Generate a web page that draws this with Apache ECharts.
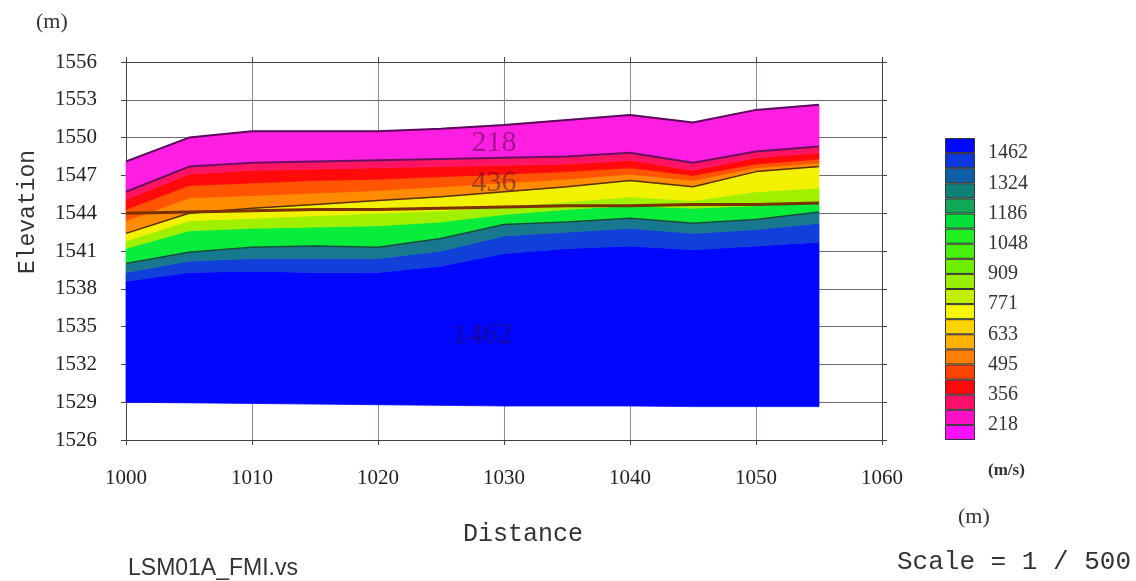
<!DOCTYPE html>
<html>
<head>
<meta charset="utf-8">
<script src="https://cdn.jsdelivr.net/npm/echarts@6/dist/echarts.min.js"></script>
<style>
html, body { margin: 0; padding: 0; background: #fff; }
#mainContent { width: 1136px; height: 581px; }
</style>
</head>
<body>
<div id="mainContent"></div>
<script>
// distance of the profile nodes (m)
var distance = [1000, 1005, 1010, 1015, 1020, 1025, 1030, 1035, 1040, 1045, 1050, 1055];

// band boundaries (elevation, m), read from the section, top to bottom
var topSurface   = [1548.1, 1550.0, 1550.5, 1550.5, 1550.5, 1550.7, 1551.0, 1551.4, 1551.8, 1551.2, 1552.2, 1552.6];
var contour218   = [1545.7, 1547.7, 1548.0, 1548.1, 1548.2, 1548.3, 1548.4, 1548.5, 1548.8, 1548.0, 1548.9, 1549.3];
var redTop       = [1545.1, 1547.1, 1547.4, 1547.5, 1547.6, 1547.7, 1547.8, 1547.9, 1548.2, 1547.4, 1548.4, 1548.8];
var orangeRedTop = [1544.3, 1546.2, 1546.4, 1546.6, 1546.7, 1546.9, 1547.1, 1547.3, 1547.6, 1547.0, 1547.9, 1548.3];
var orangeTop    = [1543.4, 1545.2, 1545.4, 1545.6, 1545.8, 1546.1, 1546.4, 1546.7, 1547.1, 1546.6, 1547.6, 1548.0];
var contour436   = [1542.4, 1544.0, 1544.4, 1544.7, 1545.0, 1545.3, 1545.7, 1546.1, 1546.6, 1546.1, 1547.3, 1547.7];
var limeTop      = [1541.8, 1543.4, 1543.6, 1543.8, 1544.0, 1544.2, 1544.5, 1544.9, 1545.3, 1545.0, 1545.7, 1546.0];
var greenTop     = [1541.2, 1542.6, 1542.8, 1542.9, 1543.0, 1543.3, 1543.9, 1544.3, 1544.6, 1544.4, 1544.6, 1544.9];
var contour1324  = [1540.0, 1540.9, 1541.3, 1541.4, 1541.3, 1542.0, 1543.1, 1543.3, 1543.6, 1543.2, 1543.5, 1544.1];
var navyTop      = [1539.3, 1540.2, 1540.4, 1540.4, 1540.4, 1541.0, 1542.2, 1542.5, 1542.8, 1542.4, 1542.7, 1543.2];
var blueTop      = [1538.6, 1539.3, 1539.4, 1539.3, 1539.3, 1539.8, 1540.8, 1541.2, 1541.4, 1541.1, 1541.4, 1541.7];
var bottomLine   = [1529.0, 1528.95, 1528.9, 1528.85, 1528.8, 1528.75, 1528.7, 1528.7, 1528.7, 1528.65, 1528.65, 1528.65];
var waterLine    = [1544.0, 1544.1, 1544.2, 1544.3, 1544.3, 1544.4, 1544.5, 1544.6, 1544.6, 1544.7, 1544.7, 1544.8];

// contour labels
var contourText = ['218', '436', '1462'];
var contourX = [1029.2, 1029.2, 1028.3];
var contourY = [1549.6, 1546.4, 1534.3];

// colour bar (bottom to top) and its labels
var barColors = ['#ff10ff', '#ff10c8', '#ff1068', '#ff0a0a', '#ff4400', '#ff8000', '#ffb000', '#ffd400',
    '#f4f800', '#c0f000', '#98f000', '#70f000', '#48f010', '#20f020', '#00e038', '#10a858',
    '#10807a', '#1060a8', '#0c38e0', '#0008ff'];
var barLabels = ['218', '356', '495', '633', '771', '909', '1048', '1186', '1324', '1462'];

var myChart = echarts.init(document.getElementById('mainContent'));

function pairs(arr) {
    var out = [];
    for (var i = 0; i < distance.length; i++) {
        out.push([distance[i], arr[i]]);
    }
    return out;
}

// bands between successive boundaries, bottom to top
var bounds = [bottomLine, blueTop, navyTop, contour1324, greenTop, limeTop, contour436,
    orangeTop, orangeRedTop, redTop, contour218, topSurface];
var bandColors = ['#0006ff', '#1040d8', '#187890', '#08ec3c', '#a0f000', '#f2f200',
    '#ff8c00', '#ff5400', '#ff0a0a', '#ff1464', '#ff1ee2'];

var bandData = [];
for (var b = 0; b < bandColors.length; b++) bandData.push([b]);

var series = [];
series.push({
    type: 'custom',
    data: bandData,
    silent: true,
    z: 1,
    renderItem: function (params, api) {
        var b = api.value(0);
        var lower = bounds[b], upper = bounds[b + 1];
        var pts = [];
        for (var i = 0; i < distance.length; i++) pts.push(api.coord([distance[i], upper[i]]));
        for (var j = distance.length - 1; j >= 0; j--) pts.push(api.coord([distance[j], lower[j]]));
        return {
            type: 'polygon',
            shape: { points: pts },
            style: { fill: bandColors[b], stroke: bandColors[b], lineWidth: 0.8 }
        };
    }
});

// contour lines
var lines = [
    [topSurface, '#5a0a5a', 2],
    [contour218, '#6a1060', 2],
    [contour436, '#5a3010', 1.5],
    [waterLine, '#7a3000', 3],
    [contour1324, '#1a4a3a', 1.5]
];
lines.forEach(function (l) {
    series.push({
        type: 'line', data: pairs(l[0]), symbol: 'none',
        lineStyle: { color: l[1], width: l[2] }, silent: true, z: 3
    });
});

// contour value labels
var labelData = [];
for (var k = 0; k < contourText.length; k++) {
    labelData.push({ name: contourText[k], value: [contourX[k], contourY[k]] });
}
series.push({
    type: 'scatter', data: labelData, symbolSize: 0, z: 4, silent: true,
    label: {
        show: true, position: 'inside', formatter: '{b}',
        fontFamily: 'Liberation Serif', fontSize: 30,
        color: 'rgba(50,10,50,0.6)'
    }
});

// colour bar
for (var c = 0; c < barColors.length; c++) {
    series.push({
        type: 'bar', stack: 'cbar', xAxisIndex: 2, yAxisIndex: 2, data: [1],
        barWidth: 30, silent: true,
        itemStyle: { color: barColors[c], borderColor: '#333', borderWidth: 1 }
    });
}

var serif = 'Liberation Serif';
var plain = function (v) { return String(v); };

option = {
    animation: false,
    backgroundColor: '#fff',
    grid: [
        { left: 126, right: 254, top: 62, bottom: 141 },
        { left: 945, top: 138, width: 30, height: 302 }
    ],
    xAxis: [{
        type: 'value', gridIndex: 0, min: 1000, max: 1060, interval: 10,
        axisLine: { lineStyle: { color: '#444' } },
        axisTick: { show: true, length: 5, lineStyle: { color: '#444' } },
        axisLabel: { margin: 28, fontFamily: serif, fontSize: 21, color: '#222', formatter: plain },
        splitLine: { show: true, lineStyle: { color: '#7c88c8', width: 1 } }
    }, {
        type: 'value', gridIndex: 0, position: 'top', min: 1000, max: 1060, interval: 10,
        axisLine: { lineStyle: { color: '#444' } },
        axisTick: { show: true, length: 5, lineStyle: { color: '#444' } },
        axisLabel: { show: false }, splitLine: { show: false }
    }, {
        type: 'category', gridIndex: 1, data: [''], show: false
    }],
    yAxis: [{
        type: 'value', gridIndex: 0, min: 1526, max: 1556, interval: 3,
        axisLine: { show: true, lineStyle: { color: '#444' } },
        axisTick: { show: true, length: 5, lineStyle: { color: '#444' } },
        axisLabel: { margin: 29, fontFamily: serif, fontSize: 21, color: '#222', formatter: plain },
        splitLine: { show: true, lineStyle: { color: '#6a6a78', width: 1 } }
    }, {
        type: 'value', gridIndex: 0, position: 'right', min: 1526, max: 1556, interval: 3,
        axisLine: { show: true, lineStyle: { color: '#444' } },
        axisTick: { show: true, length: 5, lineStyle: { color: '#444' } },
        axisLabel: { show: false }, splitLine: { show: false }
    }, {
        type: 'value', gridIndex: 1, position: 'right', min: 0, max: 20, interval: 1,
        axisLine: { show: false }, axisTick: { show: false }, splitLine: { show: false },
        axisLabel: {
            margin: 13, fontFamily: serif, fontSize: 20, color: '#333',
            formatter: function (v) {
                return v % 2 === 1 ? barLabels[(v - 1) / 2] : '';
            }
        }
    }],
    graphic: [
        { type: 'text', left: 36, top: 11, style: { text: '(m)', font: '22px "Liberation Serif"', fill: '#333' } },
        {
            type: 'text', x: 28, y: 212, rotation: Math.PI / 2,
            style: { text: 'Elevation', font: '23px "Liberation Mono"', fill: '#333', align: 'center', verticalAlign: 'middle' }
        },
        {
            type: 'text', x: 523, y: 534,
            style: { text: 'Distance', font: '25px "Liberation Mono"', fill: '#333', align: 'center', verticalAlign: 'middle' }
        },
        { type: 'text', left: 988, top: 462, style: { text: '(m/s)', font: 'bold 17px "Liberation Serif"', fill: '#333' } },
        { type: 'text', left: 958, top: 506, style: { text: '(m)', font: '22px "Liberation Serif"', fill: '#333' } },
        { type: 'text', left: 897, top: 549, style: { text: 'Scale = 1 / 500', font: '26px "Liberation Mono"', fill: '#333' } },
        { type: 'text', left: 128, top: 557, style: { text: 'LSM01A_FMI.vs', font: '23px "Liberation Sans"', fill: '#333' } }
    ],
    series: series
};

myChart.setOption(option);
</script>
</body>
</html>
